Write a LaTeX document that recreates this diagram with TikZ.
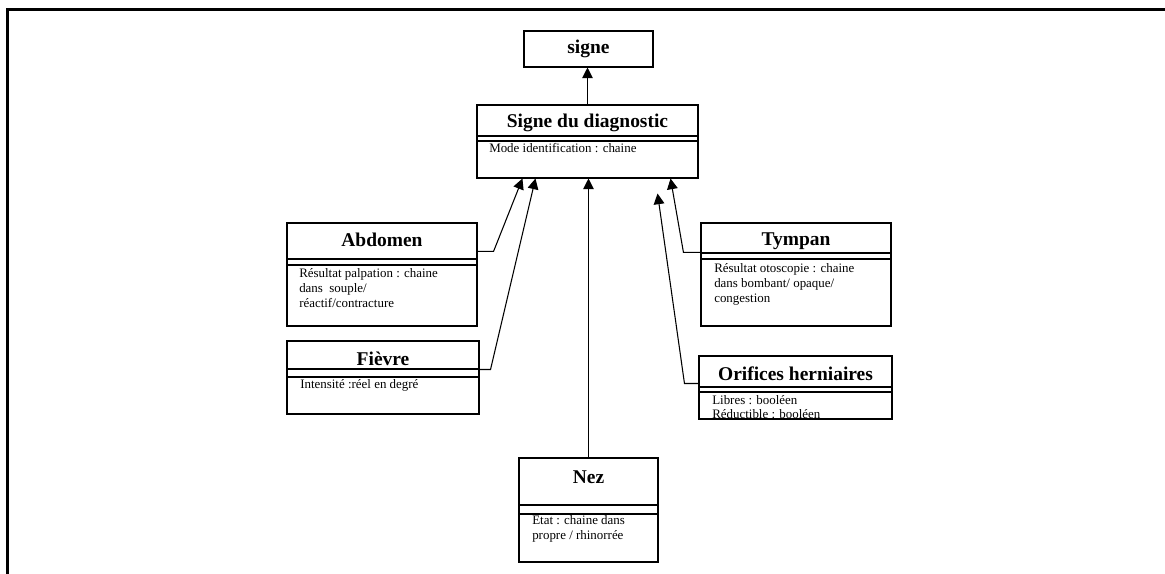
\documentclass[tikz,border=0pt]{standalone}
\usepackage{fontspec}
\setmainfont{Liberation Serif}
\usetikzlibrary{arrows.meta,calc,fit}
\begin{document}
\begin{tikzpicture}[x=0.75pt,y=-0.75pt,
  classbox/.style={draw,line width=0.8pt,inner sep=0pt},
  sep/.style={line width=0.8pt},
  title/.style={font=\fontsize{14.6pt}{17pt}\selectfont\bfseries,inner sep=0pt,anchor=base},
  attr/.style={font=\fontsize{9.7pt}{11.25pt}\selectfont,inner sep=0pt,anchor=base west,align=left},
  conn/.style={line width=0.8pt,-{Triangle[length=8pt,width=8pt]}},
  frame/.style={line width=2.25pt}]
\useasboundingbox (0,0) rectangle (1165,574);

% outer frame (top and left edges)
\draw[frame] (7,574) -- (7,10) -- (1165,10);

% signe
\node[classbox,fit={(524,31) (653,67)}] (signe) {};
\node[title] (signet) at (588.5,54) {signe};

% Signe du diagnostic
\node[classbox,fit={(477,105) (698,178)}] (sdd) {};
\draw[sep] (477,136) -- (698,136);
\draw[sep] (477,141) -- (698,141);
\node[title] (sddt) at (587.5,127.5) {Signe du diagnostic};
\node[attr] (sdda) at (489,153) {Mode identification : chaine};

% Abdomen (attribute nodes sit on the baseline of their last line)
\node[classbox,fit={(287,223) (477,326)}] (abd) {};
\draw[sep] (287,259) -- (477,259);
\draw[sep] (287,265) -- (477,265);
\node[title] (abdt) at (382,247) {Abdomen};
\node[attr] (abda) at (299,307) {Résultat palpation : chaine\\dans\ \ souple/\\réactif/contracture};

% Fievre
\node[classbox,fit={(287,341) (479,414)}] (fie) {};
\draw[sep] (287,369) -- (479,369);
\draw[sep] (287,377) -- (479,377);
\node[title] (fiet) at (383,365) {Fièvre};
\node[attr] (fiea) at (300,388) {Intensité :réel en degré};

% Tympan
\node[classbox,fit={(701,223) (891,326)}] (tym) {};
\draw[sep] (701,253) -- (891,253);
\draw[sep] (701,259) -- (891,259);
\node[title] (tymt) at (796,246) {Tympan};
\node[attr] (tyma) at (714,302) {Résultat otoscopie : chaine\\dans bombant/ opaque/\\congestion};

% Orifices herniaires
\node[classbox,fit={(699,356) (892,419)}] (ori) {};
\draw[sep] (699,387) -- (892,387);
\draw[sep] (699,392) -- (892,392);
\node[title] (orit) at (795.5,380.5) {Orifices herniaires};
\node[attr,font=\fontsize{9.7pt}{10.2pt}\selectfont] (oria) at (712,418) {Libres : booléen\\Réductible : booléen};

% Nez
\node[classbox,fit={(519,458) (658,562)}] (nez) {};
\draw[sep] (519,505) -- (658,505);
\draw[sep] (519,514) -- (658,514);
\node[title] (nezt) at (588.5,483) {Nez};
\node[attr] (neza) at (532,539) {Etat : chaine dans\\propre / rhinorrée};

% generalisation links
\draw[conn] (sdd.north) -- (sdd.north |- signe.south);
\draw[conn] ($(abd.north east)+(0,29)$) -- ++(16,0) -- ($(sdd.south west)+(46,0)$);
\draw[conn] ($(fie.north east)+(0,29)$) -- ++(11,0) -- ($(sdd.south west)+(59,0)$);
\draw[conn] (nez.north) -- (nez.north |- sdd.south);
\draw[conn] ($(tym.north west)+(0,30)$) -- ++(-17,0) -- ($(sdd.south east)+(-28,0)$);
\coordinate (oritip) at ($(sdd.south east)+(-41,15)$);
\draw[conn] ($(ori.north west)+(0,28)$) -- ++(-14,0) -- (oritip);
\end{tikzpicture}
\end{document}
